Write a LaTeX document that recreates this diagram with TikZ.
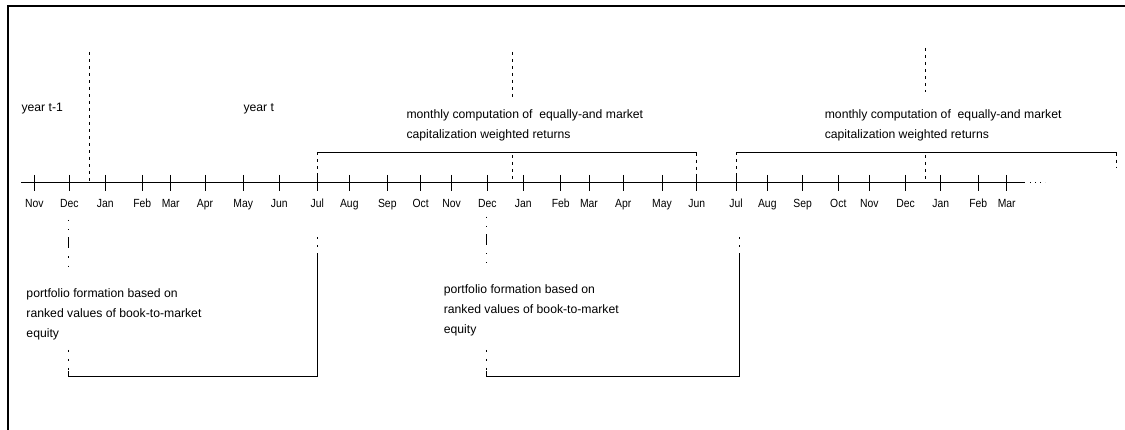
\documentclass[tikz,border=0pt]{standalone}
\usepackage{fontspec}
\setmainfont{Liberation Sans}
\newfontfamily\monthfont[FakeStretch=0.88]{Liberation Sans}
\begin{document}
\begin{tikzpicture}[x=1pt,y=-1pt,
  line width=1pt,
  frame/.style={line width=2pt},
  tick/.style={line width=1pt},
  dsh/.style={dash pattern=on 3pt off 4pt},
  dashdot/.style={dash pattern=on 1.2pt off 8pt on 1.2pt off 7pt on 11pt off 8pt on 1.2pt off 8pt on 1.2pt off 20pt},
  monthlab/.style={anchor=base,inner sep=0pt,font=\monthfont\fontsize{11.8}{13}\selectfont},
  txt/.style={anchor=base west,inner sep=0pt,align=left,font=\fontsize{12.2}{20}\selectfont}]
\useasboundingbox (0,0) rectangle (1125,430);
\fill[white] (0,0) rectangle (1125,430);
% frame
\coordinate (fTL) at (7.5,6);
\coordinate (fTR) at (1125,6);
\coordinate (fBL) at (7.5,430);
\draw[frame] (fTR) -- (fTL) -- (fBL);
% axis
\coordinate (a0) at (21,182.7);
\coordinate (a1) at (1025,182.7);
\coordinate (a2) at (1045,182.7);
\draw (a0) -- (a1);
\draw[dash pattern=on 1pt off 4pt] ([xshift=5pt]a1) -- (a2);
% ticks and month labels
\foreach \x/\m [count=\i] in {34.3/Nov,69.3/Dec,105.3/Jan,142.3/Feb,170.7/Mar,205/Apr,243.3/May,279.3/Jun,317.3/Jul,349.3/Aug,387.3/Sep,420.7/Oct,451.7/Nov,487.3/Dec,523.3/Jan,560.7/Feb,589/Mar,623.3/Apr,662/May,696.7/Jun,736/Jul,767.3/Aug,802.7/Sep,838.3/Oct,869.3/Nov,905.7/Dec,940.7/Jan,978.3/Feb,1006.7/Mar}{
  \coordinate (t\i) at (\x,182.7);
  \draw[tick] ([yshift=7.7pt]t\i) -- ([yshift=-8.3pt]t\i);
  \node[monthlab] (m\i) at ([yshift=-25pt]t\i) {\m};
}
% year dividers
\coordinate (y1top) at (89,52);
\coordinate (y1bot) at (89,182.7);
\draw[dsh] (y1top) -- (y1bot);
\coordinate (y2top) at (512.7,52);
\coordinate (y2mid) at (512.7,97);
\coordinate (y2low) at (512.7,155);
\coordinate (y2bot) at (512.7,182.7);
\draw[dsh] (y2top) -- (y2mid);
\draw[dsh] (y2low) -- (y2bot);
\coordinate (y3top) at (925,48);
\coordinate (y3mid) at (925,92);
\coordinate (y3low) at (925,155);
\coordinate (y3bot) at (925,182.7);
\draw[dsh] (y3top) -- (y3mid);
\draw[dsh] (y3low) -- (y3bot);
% year labels
\node[txt] (yp) at (21,112) {year t-1};
\node[txt] (yc) at (243,112) {year t};
% top brackets
\coordinate (b1a) at (317.3,152.7);
\coordinate (b1b) at (696.7,152.7);
\draw[dsh] (t9) -- (b1a);
\draw (b1a) -- (b1b);
\draw[dsh] (b1b) -- (t20);
\coordinate (b2a) at (736,152.7);
\coordinate (b2b) at (1116.7,152.7);
\coordinate (b2c) at (1116.7,168);
\draw[dsh] (t21) -- (b2a);
\draw (b2a) -- (b2b);
\draw[dsh] (b2b) -- (b2c);
\node[txt] (mc1) at (406,138.3) {monthly computation of\ \ equally-and market\\capitalization weighted returns};
\node[txt] (mc2) at (824.3,138.3) {monthly computation of\ \ equally-and market\\capitalization weighted returns};
% lower brackets
\coordinate (d1a) at (68.3,220);
\coordinate (d1b) at (68.3,272);
\draw[dashdot] (d1a) -- (d1b);
\coordinate (p1a) at (68.3,350);
\coordinate (p1b) at (68.3,371);
\coordinate (p1c) at (68.3,376.7);
\coordinate (p1d) at (317.3,376.7);
\coordinate (p1e) at (317.3,255);
\coordinate (p1f) at (317.3,235);
\draw[dash pattern=on 2pt off 7pt] (p1a) -- (p1b);
\draw (p1b) -- (p1c) -- (p1d) -- (p1e);
\draw[dash pattern=on 2pt off 6pt] (p1e) -- (p1f);
\node[txt] (pf1) at (26,337.3) {portfolio formation based on\\ranked values of book-to-market\\equity};
\coordinate (d2a) at (486.5,216.7);
\coordinate (d2b) at (486.5,268);
\draw[dashdot] (d2a) -- (d2b);
\coordinate (p2a) at (486.7,350);
\coordinate (p2b) at (486.7,371);
\coordinate (p2c) at (486.7,376.7);
\coordinate (p2d) at (739,376.7);
\coordinate (p2e) at (739,255);
\coordinate (p2f) at (739,235);
\draw[dash pattern=on 2pt off 7pt] (p2a) -- (p2b);
\draw (p2b) -- (p2c) -- (p2d) -- (p2e);
\draw[dash pattern=on 2pt off 6pt] (p2e) -- (p2f);
\node[txt] (pf2) at (443.3,333.3) {portfolio formation based on\\ranked values of book-to-market\\equity};
\end{tikzpicture}
\end{document}
